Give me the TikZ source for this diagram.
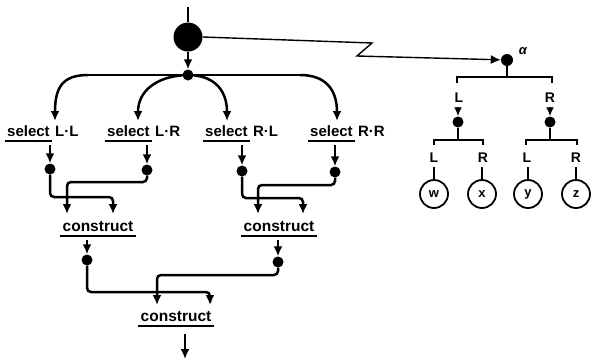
\documentclass[tikz,border=0pt]{standalone}
\usepackage{fontspec}
\setmainfont{Liberation Sans}
\usetikzlibrary{arrows.meta}
\begin{document}
\begin{tikzpicture}[x=1pt,y=-1pt,
  ln/.style={line width=2.5pt},
  thin ln/.style={line width=1.4pt},
  arr/.style={ln,-{Latex[length=10pt,width=9pt]}},
  sarr/.style={line width=2pt,-{Latex[length=9pt,width=8pt]}},
  dotn/.style={circle,fill,inner sep=0pt,minimum size=11pt},
  bigdot/.style={circle,fill,inner sep=0pt,minimum size=29pt},
  lbl/.style={font=\bfseries\fontsize{15}{17}\selectfont, inner sep=0pt, anchor=south west},
  clbl/.style={font=\bfseries\fontsize{15.5}{17}\selectfont, inner sep=0pt, anchor=south},
  tl/.style={font=\bfseries\fontsize{14}{16}\selectfont, inner sep=0pt},
  leaf/.style={circle,draw,line width=1.8pt,minimum size=28pt,inner sep=0pt,font=\bfseries\fontsize{13}{15}\selectfont},
  ul/.style={line width=2pt},
  tln/.style={line width=2pt},
  rc/.style={rounded corners=4pt}
]
\useasboundingbox (0,0) rectangle (592,362);

% top
\coordinate (top) at (188,7);
\node[bigdot] (big) at (188,37) {};
\node[dotn] (d0) at (188,75) {};
\draw[line width=1.8pt] (top) -- (big);
\draw[arr] (big) -- (d0);
\coordinate (hL) at (88,75);
\coordinate (hR) at (300,75);
\draw[ln] (hL) -- (hR);

% select labels
\node[lbl] (s1) at (7,137) {select};
\node[lbl] (s2) at (107,137) {select};
\node[lbl] (s3) at (205,137) {select};
\node[lbl] (s4) at (310,137) {select};
\node[lbl,xshift=5pt] (s1b) at (s1.south east) {L·L};
\node[lbl,xshift=5pt] (s2b) at (s2.south east) {L·R};
\node[lbl,xshift=5pt] (s3b) at (s3.south east) {R·L};
\node[lbl,xshift=5pt] (s4b) at (s4.south east) {R·R};
\foreach \s in {s1,s2,s3,s4}{
  \draw[ul] ([yshift=-4pt,xshift=-2pt]\s.south west) -- ([yshift=-4pt,xshift=2pt]\s.south east);
}

% arrows into selects
\coordinate (a1) at (55,121);
\coordinate (a2) at (138,121);
\coordinate (a3) at (227,121);
\coordinate (a4) at (337,121);
\draw[arr] (hL) .. controls (62,75) and (55,88) .. (a1);
\draw[arr] (d0) .. controls (158,77) and (138,90) .. (a2);
\draw[arr] (d0) .. controls (214,77) and (227,90) .. (a3);
\draw[arr] (hR) .. controls (326,75) and (337,90) .. (a4);

% columns below selects
\coordinate (c1) at (50,145);
\coordinate (c2) at (147,145);
\coordinate (c3) at (242,145);
\coordinate (c4) at (335,145);
\node[dotn] (m1) at (50,169) {};
\node[dotn] (m2) at (147,170) {};
\node[dotn] (m3) at (242,171) {};
\node[dotn] (m4) at (335,172) {};
\draw[arr] (c1) -- (m1);
\draw[arr] (c2) -- (m2);
\draw[arr] (c3) -- (m3);
\draw[arr] (c4) -- (m4);

\coordinate (k1a) at (67,214);
\coordinate (k1b) at (113,214);
\coordinate (k2a) at (258,214);
\coordinate (k2b) at (303,214);
\draw[arr,rc] (m1) -- (50,197) -- (113,197) -- (k1b);
\draw[arr,rc] (m2) -- (147,182) -- (67,182) -- (k1a);
\draw[arr,rc] (m3) -- (242,198) -- (303,198) -- (k2b);
\draw[arr,rc] (m4) -- (335,185) -- (258,185) -- (k2a);

% constructs
\node[clbl] (con1) at (98,232) {construct};
\node[clbl] (con2) at (279,232) {construct};
\node[clbl] (con3) at (176,322) {construct};
\foreach \s in {con1,con2,con3}{
  \draw[ul] ([yshift=-4pt,xshift=-2pt]\s.south west) -- ([yshift=-4pt,xshift=2pt]\s.south east);
}

\coordinate (c5) at (87,240);
\coordinate (c6) at (278,240);
\node[dotn] (m5) at (87,260) {};
\node[dotn] (m6) at (278,262) {};
\draw[arr] (c5) -- (m5);
\draw[arr] (c6) -- (m6);
\coordinate (k3a) at (157,305);
\coordinate (k3b) at (210,305);
\draw[arr,rc] (m5) -- (87,292) -- (210,292) -- (k3b);
\draw[arr,rc] (m6) -- (278,275) -- (157,275) -- (k3a);

\coordinate (outa) at (185,334);
\coordinate (outb) at (185,359);
\draw[arr] (outa) -- (outb);

% alpha branch
\node[dotn,minimum size=12pt] (db) at (507,60) {};
\coordinate (z1) at (372,43);
\coordinate (z2) at (357,56);
\draw[thin ln,-{Latex[length=10pt,width=9pt]}] (big.east) -- (z1) -- (z2) -- (db);
\node[font=\bfseries\itshape\fontsize{13}{15}\selectfont] (alpha) at (523,51) {α};

% right tree
\coordinate (t0) at (507,77);
\draw[tln] (db) -- (t0);
\draw[tln] (457,83) -- (457,77) -- (552,77) -- (552,83);
\node[tl] (tL) at (459,98) {L};
\node[tl] (tR) at (550,98) {R};
\coordinate (u1) at (458,107);
\coordinate (u2) at (550,107);
\node[dotn] (m7) at (458,122) {};
\node[dotn] (m8) at (550,122) {};
\draw[sarr] (u1) -- (m7);
\draw[sarr] (u2) -- (m8);
\coordinate (v1) at (458,140);
\coordinate (v2) at (550,140);
\draw[tln] (m7) -- (v1);
\draw[tln] (m8) -- (v2);
\draw[tln] (434,145) -- (434,140) -- (483,140) -- (483,145);
\draw[tln] (526,145) -- (526,140) -- (577,140) -- (577,145);
\node[tl] (lL1) at (434,158) {L};
\node[tl] (lR1) at (483,158) {R};
\node[tl] (lL2) at (527,158) {L};
\node[tl] (lR2) at (576,158) {R};
\node[leaf] (w) at (434,194) {w};
\node[leaf] (x) at (482,194) {x};
\node[leaf] (y) at (528,194) {y};
\node[leaf] (z) at (576,194) {z};
\coordinate (e1) at (434,167);
\coordinate (e2) at (482,167);
\coordinate (e3) at (528,167);
\coordinate (e4) at (576,167);
\draw[tln] (e1) -- (w);
\draw[tln] (e2) -- (x);
\draw[tln] (e3) -- (y);
\draw[tln] (e4) -- (z);
\end{tikzpicture}
\end{document}
